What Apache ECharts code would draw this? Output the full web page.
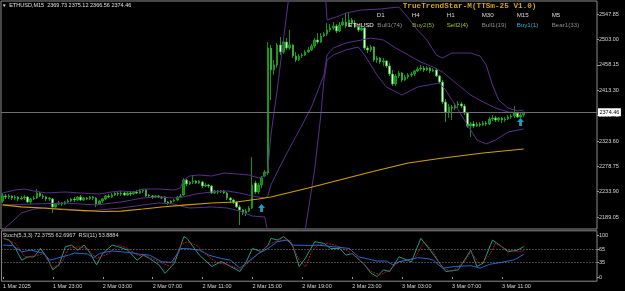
<!DOCTYPE html>
<html>
<head>
<meta charset="utf-8">
<title>ETHUSD,M15</title>
<script src="https://cdn.jsdelivr.net/npm/echarts@6/dist/echarts.min.js"></script>
<style>
  html, body { margin: 0; padding: 0; background: #000; }
  #chart { width: 625px; height: 291px; }
</style>
</head>
<body>
<div id="chart"></div>
<script>
// ETHUSD M15, bars from 1 Mar 2025 19:00 to 3 Mar 12:45 (168 bars)
const opens = [
  2217.4, 2226.2, 2224.5, 2226.2, 2222.7, 2224.5, 2220.9, 2222.7, 2224.5, 2215.6,
  2220.9, 2222.7, 2231.5, 2226.2, 2224.5, 2220.9, 2220.9, 2206.8, 2212.0, 2213.8,
  2212.0, 2215.6, 2217.4, 2220.9, 2219.1, 2224.5, 2219.1, 2222.7, 2220.9, 2224.5,
  2222.7, 2212.0, 2217.4, 2220.9, 2226.2, 2224.5, 2228.0, 2231.5, 2229.8, 2231.5,
  2228.0, 2231.5, 2229.8, 2233.3, 2231.5, 2235.1, 2236.8, 2228.0, 2226.2, 2224.5,
  2226.2, 2224.5, 2224.5, 2215.6, 2213.8, 2217.4, 2219.1, 2224.5, 2228.0, 2254.5,
  2247.5, 2251.0, 2252.8, 2249.2, 2251.0, 2243.9, 2245.7, 2243.9, 2231.5, 2235.1,
  2233.3, 2235.1, 2231.5, 2222.7, 2219.1, 2215.6, 2206.8, 2201.4, 2196.1, 2199.7,
  2205.0, 2249.2, 2233.3, 2245.7, 2261.6, 2266.9, 2488.2, 2449.3, 2458.1, 2493.5,
  2481.1, 2498.8, 2488.2, 2493.5, 2474.0, 2467.0, 2474.0, 2475.8, 2481.1, 2484.7,
  2491.7, 2502.4, 2498.8, 2509.4, 2513.0, 2520.1, 2523.6, 2527.1, 2518.3, 2528.9,
  2534.2, 2527.1, 2537.8, 2532.4, 2525.4, 2520.1, 2523.6, 2488.2, 2484.7, 2490.0,
  2467.0, 2470.5, 2463.4, 2465.2, 2456.3, 2442.2, 2424.5, 2438.6, 2443.9, 2431.5,
  2436.9, 2440.4, 2442.2, 2447.5, 2451.0, 2452.8, 2449.3, 2452.8, 2447.5, 2449.3,
  2438.6, 2428.0, 2392.6, 2374.9, 2383.8, 2382.0, 2387.3, 2389.1, 2385.5, 2373.1,
  2350.1, 2353.7, 2350.1, 2353.7, 2351.9, 2355.4, 2353.7, 2362.5, 2364.3, 2360.7,
  2364.3, 2360.7, 2362.5, 2366.1, 2367.8, 2373.1, 2366.1, 2369.73
];
const closes = [
  2226.2, 2224.5, 2226.2, 2222.7, 2224.5, 2220.9, 2222.7, 2224.5, 2215.6, 2220.9,
  2222.7, 2231.5, 2226.2, 2224.5, 2220.9, 2222.7, 2206.8, 2212.0, 2213.8, 2212.0,
  2215.6, 2217.4, 2220.9, 2219.1, 2224.5, 2219.1, 2222.7, 2220.9, 2224.5, 2222.7,
  2212.0, 2217.4, 2220.9, 2226.2, 2224.5, 2228.0, 2231.5, 2229.8, 2231.5, 2228.0,
  2231.5, 2229.8, 2233.3, 2231.5, 2235.1, 2236.8, 2226.2, 2226.2, 2224.5, 2226.2,
  2224.5, 2222.7, 2215.6, 2213.8, 2217.4, 2219.1, 2224.5, 2226.2, 2254.5, 2247.5,
  2251.0, 2252.8, 2249.2, 2252.8, 2243.9, 2245.7, 2243.9, 2231.5, 2235.1, 2233.3,
  2235.1, 2231.5, 2222.7, 2219.1, 2215.6, 2206.8, 2201.4, 2196.1, 2199.7, 2205.0,
  2245.7, 2233.3, 2245.7, 2258.1, 2268.7, 2488.2, 2449.3, 2458.1, 2493.5, 2481.1,
  2498.8, 2488.2, 2493.5, 2474.0, 2467.0, 2474.0, 2475.8, 2481.1, 2484.7, 2491.7,
  2502.4, 2498.8, 2509.4, 2513.0, 2520.1, 2523.6, 2527.1, 2518.3, 2528.9, 2534.2,
  2527.1, 2537.8, 2532.4, 2525.4, 2520.1, 2523.6, 2488.2, 2484.7, 2490.0, 2467.0,
  2470.5, 2463.4, 2465.2, 2456.3, 2442.2, 2424.5, 2438.6, 2443.9, 2431.5, 2436.9,
  2440.4, 2442.2, 2447.5, 2451.0, 2452.8, 2449.3, 2452.8, 2447.5, 2449.3, 2438.6,
  2428.0, 2392.6, 2374.9, 2383.8, 2382.0, 2387.3, 2389.1, 2385.5, 2373.1, 2350.1,
  2353.7, 2350.1, 2353.7, 2351.9, 2355.4, 2353.7, 2362.5, 2364.3, 2360.7, 2364.3,
  2360.7, 2362.5, 2366.1, 2367.8, 2373.1, 2366.1, 2369.6, 2374.46
];
const lows = [
  2213.8, 2220.9, 2220.9, 2219.1, 2219.1, 2217.4, 2219.1, 2219.1, 2213.8, 2212.0,
  2219.1, 2220.9, 2224.5, 2220.9, 2217.4, 2217.4, 2196.1, 2205.0, 2210.3, 2208.5,
  2210.3, 2213.8, 2215.6, 2215.6, 2217.4, 2217.4, 2217.4, 2219.1, 2219.1, 2219.1,
  2206.8, 2210.3, 2213.8, 2219.1, 2222.7, 2222.7, 2226.2, 2226.2, 2226.2, 2226.2,
  2226.2, 2226.2, 2228.0, 2229.8, 2229.8, 2231.5, 2224.5, 2222.7, 2220.9, 2222.7,
  2222.7, 2220.9, 2213.8, 2210.3, 2212.0, 2215.6, 2217.4, 2222.7, 2226.2, 2243.9,
  2245.7, 2247.5, 2247.5, 2247.5, 2240.4, 2242.1, 2240.4, 2229.8, 2229.8, 2229.8,
  2231.5, 2229.8, 2219.1, 2213.8, 2212.0, 2205.0, 2174.9, 2192.6, 2190.8, 2197.9,
  2203.2, 2229.8, 2229.8, 2240.4, 2259.8, 2263.4, 2396.1, 2440.4, 2452.8, 2475.8,
  2477.6, 2484.7, 2484.7, 2470.5, 2463.4, 2465.2, 2470.5, 2474.0, 2479.3, 2482.9,
  2488.2, 2495.3, 2497.0, 2507.7, 2509.4, 2516.5, 2520.1, 2514.7, 2516.5, 2527.1,
  2523.6, 2525.4, 2528.9, 2523.6, 2516.5, 2518.3, 2484.7, 2479.3, 2481.1, 2463.4,
  2461.6, 2459.9, 2456.3, 2452.8, 2438.6, 2420.9, 2420.9, 2435.1, 2428.0, 2429.8,
  2433.3, 2436.9, 2438.6, 2445.7, 2447.5, 2445.7, 2447.5, 2443.9, 2445.7, 2436.9,
  2424.5, 2389.1, 2357.2, 2364.3, 2360.7, 2378.4, 2382.0, 2382.0, 2369.6, 2346.6,
  2330.6, 2346.6, 2348.4, 2348.4, 2350.1, 2350.1, 2351.9, 2359.0, 2357.2, 2357.2,
  2355.4, 2357.2, 2360.7, 2362.5, 2364.3, 2364.3, 2364.3, 2366.56
];
const highs = [
  2231.5, 2229.8, 2229.8, 2228.0, 2228.0, 2226.2, 2226.2, 2228.0, 2226.2, 2222.7,
  2226.2, 2238.6, 2233.3, 2229.8, 2226.2, 2224.5, 2222.7, 2213.8, 2217.4, 2215.6,
  2217.4, 2220.9, 2222.7, 2224.5, 2226.2, 2228.0, 2224.5, 2224.5, 2226.2, 2226.2,
  2224.5, 2219.1, 2222.7, 2228.0, 2229.8, 2231.5, 2233.3, 2233.3, 2235.1, 2233.3,
  2233.3, 2235.1, 2235.1, 2236.8, 2238.6, 2238.6, 2238.6, 2229.8, 2228.0, 2228.0,
  2228.0, 2226.2, 2226.2, 2217.4, 2219.1, 2220.9, 2226.2, 2229.8, 2258.1, 2256.3,
  2252.8, 2263.4, 2254.5, 2254.5, 2252.8, 2249.2, 2247.5, 2245.7, 2236.8, 2236.8,
  2236.8, 2236.8, 2233.3, 2224.5, 2220.9, 2217.4, 2210.3, 2203.2, 2203.2, 2208.5,
  2295.2, 2252.8, 2249.2, 2261.6, 2272.2, 2498.8, 2493.5, 2467.0, 2497.0, 2507.7,
  2502.4, 2505.9, 2520.1, 2495.3, 2481.1, 2477.6, 2479.3, 2484.7, 2490.0, 2495.3,
  2505.9, 2514.7, 2514.7, 2516.5, 2532.4, 2530.7, 2534.2, 2530.7, 2534.2, 2541.3,
  2550.1, 2550.1, 2541.3, 2537.8, 2528.9, 2527.1, 2525.4, 2491.7, 2493.5, 2491.7,
  2474.0, 2472.3, 2470.5, 2467.0, 2461.6, 2449.3, 2442.2, 2447.5, 2445.7, 2440.4,
  2443.9, 2445.7, 2449.3, 2454.6, 2458.1, 2456.3, 2456.3, 2454.6, 2452.8, 2452.8,
  2440.4, 2431.5, 2397.9, 2389.1, 2387.3, 2390.8, 2394.3, 2392.6, 2389.1, 2374.9,
  2357.2, 2359.0, 2357.2, 2357.2, 2359.0, 2359.0, 2366.1, 2369.6, 2367.8, 2366.1,
  2366.1, 2366.1, 2369.6, 2371.4, 2385.5, 2374.9, 2374.9, 2375.12
];

// Bollinger bands, read at sample bars (bar index, price); off-chart parts estimated
const bbUpper = [[0,2231.5],[4,2236.8],[7,2238.6],[10,2235.1],[14,2231.5],[20,2233.3],[25,2231.5],[31,2229.8],[35,2233.3],[38,2235.1],[42,2233.3],[45,2238.6],[50,2238.6],[55,2236.8],[57,2240.4],[58,2254.5],[60,2261.6],[63,2263.4],[67,2261.6],[71,2266.9],[75,2265.2],[79,2263.4],[82,2258.1],[84,2261.6],[85,2272.2],[86,2334.2],[88,2413.9],[90,2502.4],[91,2546.6],[92,2590],[96,2640],[100,2650],[103,2620],[104,2537.8],[107,2543.1],[110,2550.1],[115,2555.5],[121,2557.2],[127,2560.8],[130,2541.3],[133,2520.1],[136,2502.4],[139,2475.8],[141,2470.5],[144,2479.3],[150,2479.3],[153,2474.0],[155,2458.1],[157,2422.7],[159,2396.1],[162,2382.0],[165,2376.7],[167,2378.4]];
const bbMiddle = [[0,2210.3],[10,2212.0],[20,2213.8],[30,2210.3],[38,2215.6],[45,2222.7],[50,2224.5],[55,2222.7],[58,2224.5],[62,2229.8],[67,2233.3],[72,2235.1],[76,2231.5],[80,2226.2],[84,2222.7],[85,2226.2],[86,2245.7],[88,2268.7],[92,2311.2],[96,2351.9],[99,2383.8],[103,2440.4],[104,2475.8],[106,2488.2],[110,2497.0],[115,2502.4],[118,2505.9],[122,2502.4],[126,2488.2],[130,2475.8],[134,2463.4],[138,2454.6],[141,2445.7],[146,2422.7],[150,2405.0],[154,2392.6],[158,2382.0],[162,2374.9],[167,2373.1]];
const bbLower = [[0,2166.1],[3,2180.2],[6,2196.1],[10,2203.2],[14,2205.0],[20,2203.2],[26,2199.7],[31,2201.4],[38,2205.0],[45,2210.3],[50,2213.8],[55,2212.0],[57,2208.5],[60,2205.0],[67,2206.8],[72,2205.0],[76,2199.7],[80,2190.8],[84,2189.1],[85,2162.5],[86,2120],[88,2080],[92,2050],[96,2100],[97,2166.1],[100,2272.2],[102,2369.6],[103,2431.5],[104,2467.0],[106,2475.8],[110,2484.7],[114,2490.0],[116,2475.8],[120,2440.4],[123,2419.2],[128,2405.0],[133,2419.2],[140,2426.3],[142,2413.9],[149,2351.9],[152,2325.4],[155,2318.3],[158,2325.4],[162,2339.5],[167,2344.8]];
// slow moving average (yellow)
const maLine = [[0,2210.4],[6,2206.9],[13,2205.0],[19,2202.3],[25,2200.6],[32,2198.8],[38,2199.6],[45,2203.2],[51,2206.7],[58,2210.2],[67,2213.8],[75,2215.6],[82,2220.9],[86,2224.4],[98,2240.4],[108,2254.5],[118,2268.7],[130,2284.6],[140,2292.6],[154,2302.3],[167,2309.4]];
// TrueTrendStar buy arrows
const buyArrows = [[83,2205.0],[166,2357.2]];

// sub window: Stoch(5,3,3) main / signal and RSI(11)
const stochMain = [[0,92],[2,88],[4,68],[6,40],[8,48],[10,48],[12,68],[14,48],[16,17],[18,29],[20,72],[22,76],[24,64],[26,76],[28,56],[30,29],[32,56],[35,76],[37,72],[40,64],[43,40],[45,52],[47,44],[50,29],[52,9],[55,33],[58,96],[59,92],[61,72],[63,52],[67,25],[70,37],[73,25],[76,13],[78,36],[80,68],[83,60],[85,76],[86,92],[88,88],[90,96],[92,84],[93,72],[95,25],[97,45],[100,84],[103,80],[105,68],[108,68],[110,52],[112,56],[116,29],[118,9],[120,1],[122,17],[124,13],[127,48],[131,36],[134,92],[137,64],[140,33],[142,13],[146,17],[149,52],[150,64],[152,25],[154,33],[157,88],[160,72],[162,60],[165,64],[167,72.3755]];
const stochSignal = [[0,92],[4,80],[7,48],[10,50],[13,55],[16,21],[19,36],[21,68],[24,72],[27,68],[30,44],[34,56],[37,76],[40,68],[43,52],[46,50],[51,33],[54,25],[57,76],[59,84],[62,76],[66,48],[69,33],[72,30],[76,17],[79,36],[83,64],[86,80],[89,88],[92,88],[95,40],[97,24],[99,60],[101,76],[104,80],[107,75],[111,60],[114,44],[118,13],[121,5],[124,17],[127,36],[132,44],[135,84],[138,60],[141,21],[144,13],[148,36],[150,60],[153,29],[156,52],[158,80],[162,64],[165,60],[167,62.6967]];
const rsiLine = [[0,76],[3,75],[6,60],[9,64],[11,60],[13,57],[15,40],[19,48],[21,52],[23,57],[27,55],[29,46],[31,56],[35,62],[38,60],[41,58],[44,54],[47,52],[51,36],[54,35],[56,56],[57,68],[60,67],[63,64],[66,52],[70,44],[73,40],[76,21],[78,33],[82,56],[85,68],[88,84],[91,88],[93,76],[98,75],[101,76],[106,72],[111,68],[114,48],[120,38],[123,38],[125,29],[127,36],[133,46],[136,44],[138,40],[141,21],[145,25],[150,27],[153,21],[156,30],[160,35],[164,41],[167,53.8884]];

const priceTicks = [2189.05, 2233.90, 2278.75, 2323.60, 2368.45, 2413.30, 2458.15, 2503.00, 2547.85];
const subTicks = [0, 35, 65, 100];
const subLevels = [65, 35];
const timeTickIndex = [0, 16, 32, 48, 64, 80, 96, 112, 128, 144, 160];
const timeTickText = ['1 Mar 2025', '1 Mar 23:00', '2 Mar 03:00', '2 Mar 07:00', '2 Mar 11:00',
  '2 Mar 15:00', '2 Mar 19:00', '2 Mar 23:00', '3 Mar 03:00', '3 Mar 07:00', '3 Mar 11:00'];
const lastBid = 2374.46;

// 191 slots: 168 bars plus the empty shift area on the right
const slots = [];
for (let i = 0; i < 191; i++) slots.push(i);

const candles = [];
for (let i = 0; i < opens.length; i++) {
  candles.push([opens[i], closes[i], lows[i], highs[i]]);
}

const txtFont = function (size, bold) {
  return (bold ? 'bold ' : '') + size + 'px "Liberation Sans", Arial, sans-serif';
};
const labelFont = '"Liberation Sans", Arial, sans-serif';
const bandStyle = { color: '#5a2f8c', width: 1 };

function panelText(x, y, text, fill, size, bold, family) {
  return {
    type: 'text', silent: true, z: 100,
    style: {
      x: x, y: y, text: text, fill: fill,
      font: family ? ((bold ? 'bold ' : '') + size + 'px ' + family) : txtFont(size, bold),
      verticalAlign: 'middle'
    }
  };
}

const chart = echarts.init(document.getElementById('chart'), null, { renderer: 'canvas' });

const option = {
  backgroundColor: '#000000',
  animation: false,
  grid: [
    { left: 1, right: 28, top: 1, height: 228, show: true, borderColor: '#8c8c8c', borderWidth: 1, backgroundColor: 'transparent' },
    { left: 1, right: 28, top: 230.8, height: 50.4, show: true, borderColor: '#8c8c8c', borderWidth: 1, backgroundColor: 'transparent' }
  ],
  xAxis: [
    {
      type: 'category', gridIndex: 0, data: slots, boundaryGap: true,
      axisLine: { show: false }, axisTick: { show: false }, axisLabel: { show: false }, splitLine: { show: false }
    },
    {
      type: 'category', gridIndex: 1, data: slots, boundaryGap: true,
      axisLine: { show: false },
      axisTick: {
        show: true, alignWithLabel: true, length: 2, lineStyle: { color: '#9a9a9a' },
        interval: function (idx) { return timeTickIndex.indexOf(idx) >= 0; }
      },
      axisLabel: {
        color: '#d6d6d6', fontSize: 5.5, fontFamily: labelFont, align: 'left', margin: 2.5,
        interval: function (idx) { return timeTickIndex.indexOf(idx) >= 0; },
        formatter: function (val, idx) {
          const k = timeTickIndex.indexOf(idx);
          return k >= 0 ? timeTickText[k] : '';
        }
      },
      splitLine: { show: false }
    }
  ],
  yAxis: [
    {
      type: 'value', gridIndex: 0, position: 'right', min: 2167.8, max: 2571.4, scale: true,
      splitLine: { show: false }, axisLine: { show: false },
      axisTick: { show: true, customValues: priceTicks, length: 2, lineStyle: { color: '#9a9a9a' } },
      axisLabel: {
        customValues: priceTicks, color: '#d6d6d6', fontSize: 5.5, fontFamily: labelFont, margin: 2,
        formatter: function (v) { return v.toFixed(2); }
      }
    },
    {
      type: 'value', gridIndex: 1, position: 'right', min: -10, max: 110,
      splitLine: { show: false }, axisLine: { show: false },
      axisTick: { show: true, customValues: subTicks, length: 2, lineStyle: { color: '#9a9a9a' } },
      axisLabel: { customValues: subTicks, color: '#d6d6d6', fontSize: 5.5, fontFamily: labelFont, margin: 2 }
    }
  ],
  series: [
    {
      name: 'ETHUSD', type: 'candlestick', xAxisIndex: 0, yAxisIndex: 0, data: candles,
      barWidth: 2,
      itemStyle: {
        color: '#0f8a12', color0: '#e6fbe6',
        borderColor: '#19b01c', borderColor0: '#2bb52b', borderWidth: 0.8
      },
      markLine: {
        silent: true, symbol: 'none',
        lineStyle: { color: '#6e6e6e', width: 1, type: 'solid' },
        label: {
          position: 'end', distance: 1, formatter: lastBid.toFixed(2),
          backgroundColor: '#ffffff', color: '#000000', fontSize: 5.5, fontFamily: labelFont, padding: [1, 1.5]
        },
        data: [{ yAxis: lastBid }]
      }
    },
    { name: 'BB upper', type: 'line', xAxisIndex: 0, yAxisIndex: 0, data: bbUpper, symbol: 'none', lineStyle: bandStyle, silent: true },
    { name: 'BB middle', type: 'line', xAxisIndex: 0, yAxisIndex: 0, data: bbMiddle, symbol: 'none', lineStyle: bandStyle, silent: true },
    { name: 'BB lower', type: 'line', xAxisIndex: 0, yAxisIndex: 0, data: bbLower, symbol: 'none', lineStyle: bandStyle, silent: true },
    { name: 'MA', type: 'line', xAxisIndex: 0, yAxisIndex: 0, data: maLine, symbol: 'none', lineStyle: { color: '#d0a000', width: 1.2 }, silent: true },
    {
      name: 'Buy', type: 'scatter', xAxisIndex: 0, yAxisIndex: 0, data: buyArrows,
      symbol: 'path://M5,0 L10,5 L7,5 L7,10 L3,10 L3,5 L0,5 Z', symbolSize: [7, 8],
      itemStyle: { color: '#1ec6ef' }, silent: true, z: 5
    },
    {
      name: 'Stoch main', type: 'line', xAxisIndex: 1, yAxisIndex: 1, data: stochMain, symbol: 'none',
      lineStyle: { color: '#1f9c88', width: 1 }, silent: true,
      markLine: {
        silent: true, symbol: 'none', label: { show: false },
        lineStyle: { color: '#8a8a8a', width: 1, type: [1, 2] },
        data: subLevels.map(function (v) { return { yAxis: v }; })
      }
    },
    { name: 'Stoch signal', type: 'line', xAxisIndex: 1, yAxisIndex: 1, data: stochSignal, symbol: 'none', lineStyle: { color: '#b3161a', width: 1, type: [2, 1] }, silent: true },
    { name: 'RSI', type: 'line', xAxisIndex: 1, yAxisIndex: 1, data: rsiLine, symbol: 'none', lineStyle: { color: '#2a66cc', width: 1 }, silent: true }
  ],
  graphic: [
    panelText(2, 5.5, '\u25BC', '#e8e8e8', 4.5),
    panelText(9.3, 5.5, 'ETHUSD,M15  2369.73 2375.12 2366.56 2374.46', '#e0e0e0', 5.5),
    panelText(2.7, 235.8, 'Stoch(5,3,3) 72.3755 62.6967  RSI(11) 53.8884', '#d6d6d6', 5.5),
    panelText(402.7, 6.5, 'TrueTrendStar-M(TTSm-25 V1.0)', '#d4a216', 7.7, true, '"Liberation Mono", monospace'),
    panelText(376.7, 15.5, 'D1', '#dcdcdc', 6.2),
    panelText(411.7, 15.5, 'H4', '#dcdcdc', 6.2),
    panelText(446.7, 15.5, 'H1', '#dcdcdc', 6.2),
    panelText(481.7, 15.5, 'M30', '#dcdcdc', 6.2),
    panelText(516.7, 15.5, 'M15', '#dcdcdc', 6.2),
    panelText(551.7, 15.5, 'M5', '#dcdcdc', 6.2),
    panelText(348.3, 25, 'ETHUSD', '#f2f2f2', 6.2),
    panelText(377.3, 25, 'Bull1(74)', '#8e8e8e', 6.2),
    panelText(412.3, 25, 'Buy2(5)', '#8fae2a', 6.2),
    panelText(446.7, 25, 'Sell2(4)', '#9ccc2e', 6.2),
    panelText(481.7, 25, 'Bull1(19)', '#8e8e8e', 6.2),
    panelText(516.7, 25, 'Buy1(1)', '#18b6d6', 6.2),
    panelText(551.7, 25, 'Bear1(33)', '#8e8e8e', 6.2)
  ]
};

chart.setOption(option);
</script>
</body>
</html>
